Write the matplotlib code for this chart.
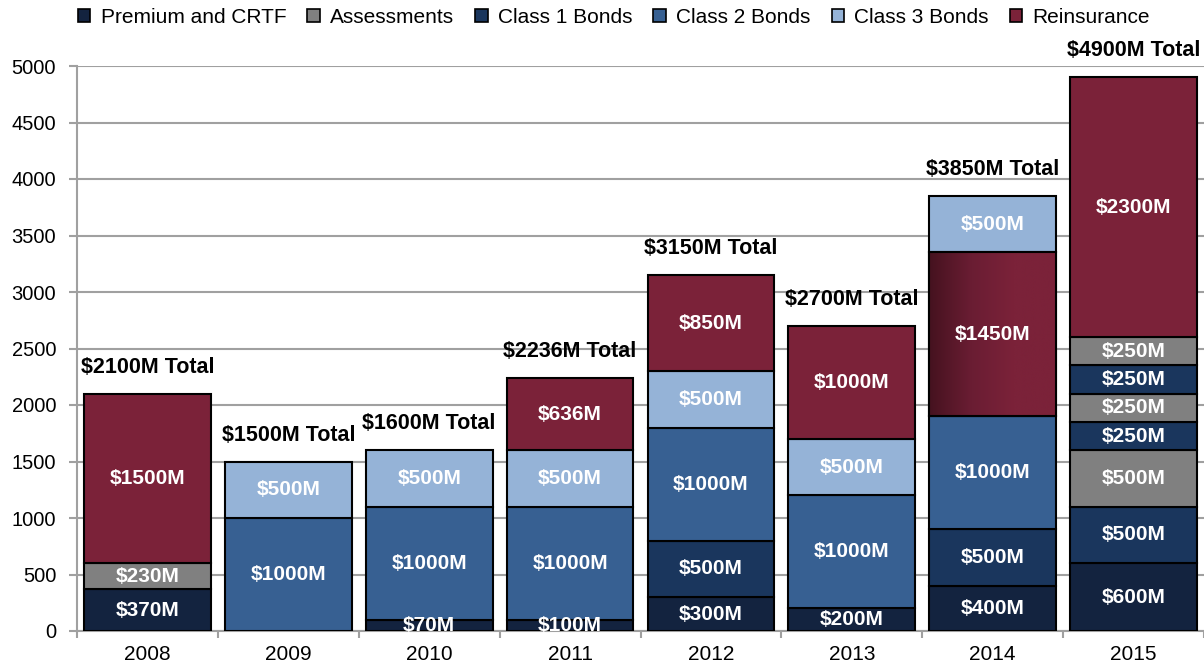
import matplotlib.pyplot as plt
import numpy as np
from matplotlib.patches import Patch
from matplotlib.colors import LinearSegmentedColormap

plt.rcParams['font.family'] = ['Liberation Sans', 'DejaVu Sans']

years = ["2008", "2009", "2010", "2011", "2012", "2013", "2014", "2015"]
categories = ["Premium and CRTF", "Assessments", "Class 1 Bonds",
              "Class 2 Bonds", "Class 3 Bonds", "Reinsurance"]
colors = ["#13233f", "#808080", "#1a365d", "#376092", "#95b3d7", "#7b2239"]

# stack order per year, bottom to top (index into categories)
seg_cats = [[0, 1, 5], [3, 4], [0, 3, 4], [0, 3, 4, 5], [0, 2, 3, 4, 5],
            [0, 3, 4, 5], [0, 2, 3, 5, 4], [0, 2, 1, 2, 1, 2, 1, 5]]
seg_vals = [[370, 230, 1500], [1000, 500], [100, 1000, 500], [100, 1000, 500, 636],
            [300, 500, 1000, 500, 850], [200, 1000, 500, 1000],
            [400, 500, 1000, 1450, 500], [600, 500, 500, 250, 250, 250, 250, 2300]]
# printed labels (2010 bottom segment is labelled $70M)
seg_labels = [[370, 230, 1500], [1000, 500], [70, 1000, 500], [100, 1000, 500, 636],
              [300, 500, 1000, 500, 850], [200, 1000, 500, 1000],
              [400, 500, 1000, 1450, 500], [600, 500, 500, 250, 250, 250, 250, 2300]]
totals = [2100, 1500, 1600, 2236, 3150, 2700, 3850, 4900]

fig = plt.figure(figsize=(12.04, 6.67), dpi=100)
ax = fig.add_axes([77 / 1204, 36 / 667, 1127 / 1204, 565 / 667])

width = 0.9
grad_bar = None
for i in range(len(years)):
    bottom = 0
    for cat, val, lab in zip(seg_cats[i], seg_vals[i], seg_labels[i]):
        b = ax.bar(i, val, width, bottom=bottom, color=colors[cat],
                   edgecolor="black", linewidth=1.5, zorder=3)[0]
        if i == 6 and cat == 5:
            grad_bar = b
        ax.text(i, bottom + val / 2, f"${lab}M", color="white", fontsize=15,
                fontweight="bold", ha="center", va="center", zorder=6, clip_on=False)
        bottom += val
    ax.annotate(f"${totals[i]}M Total", (i, totals[i]), xytext=(0, 19),
                textcoords="offset points", ha="center", va="center",
                fontsize=15.5, fontweight="bold", annotation_clip=False)

# dark-to-light gradient on the 2014 reinsurance block
if grad_bar is not None:
    x0, y0 = grad_bar.get_x(), grad_bar.get_y()
    w, h = grad_bar.get_width(), grad_bar.get_height()
    cmap = LinearSegmentedColormap.from_list("g", ["#45121f", "#6a1d33", "#7b2239", "#7b2239"])
    im = ax.imshow(np.linspace(0, 1, 256).reshape(1, -1), cmap=cmap, aspect="auto",
                   extent=[x0, x0 + w, y0, y0 + h], zorder=4)
    im.set_clip_path(grad_bar)
    ax.bar(6, h, width, bottom=y0, color="none", edgecolor="black",
           linewidth=1.5, zorder=5)

ax.set_xlim(-0.5, 7.5)
ax.set_ylim(0, 5000)
ax.set_yticks(range(0, 5001, 500))
ax.set_xticks(range(len(years)))
ax.set_xticklabels(years)
ax.set_xticks(np.arange(-0.5, 8, 1), minor=True)
ax.tick_params(axis="x", which="major", length=0, labelsize=15, pad=10)
ax.tick_params(axis="x", which="minor", length=5, color="#a0a0a0", width=1.5)
ax.tick_params(axis="y", length=6, color="#a0a0a0", width=1.5, labelsize=14.5, pad=9)
ax.yaxis.grid(True, color="#a0a0a0", linewidth=1.5, zorder=0)
ax.set_axisbelow(True)
for s in ["top", "right"]:
    ax.spines[s].set_visible(False)
for s in ["left", "bottom"]:
    ax.spines[s].set_color("#a0a0a0")
    ax.spines[s].set_linewidth(1.5)

handles = [Patch(facecolor=c, edgecolor="black", linewidth=1.2) for c in colors]
fig.legend(handles, categories, loc="upper center", bbox_to_anchor=(0.51, 1.016),
           ncol=6, frameon=False, fontsize=15, handlelength=0.6, handleheight=0.6,
           handletextpad=0.5, columnspacing=1.0)

fig.savefig("out.png", dpi=100)
